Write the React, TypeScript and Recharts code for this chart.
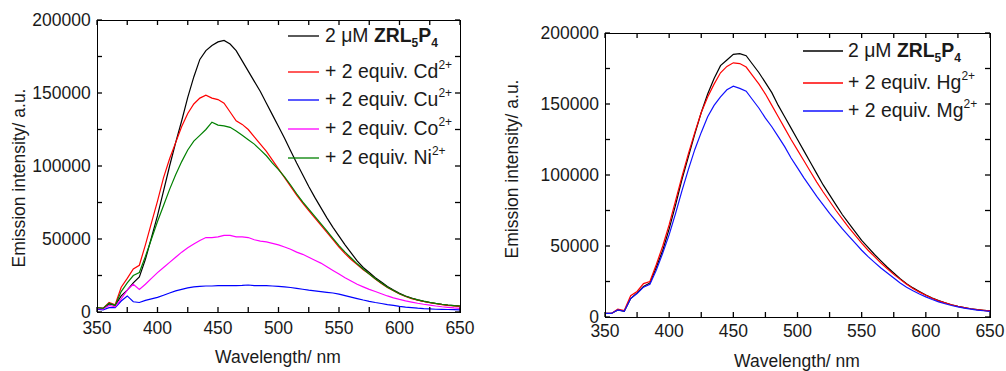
import { LineChart, Line, XAxis, YAxis, Legend, Label } from 'recharts';

// emission spectra, intensity in a.u., read every 5 nm
const WAVELENGTH = [
  350, 355, 360, 365, 370, 375, 380, 385, 390, 395, 400, 405, 410, 415, 420, 425, 430, 435, 440, 445,
  450, 455, 460, 465, 470, 475, 480, 485, 490, 495, 500, 505, 510, 515, 520, 525, 530, 535, 540, 545,
  550, 555, 560, 565, 570, 575, 580, 585, 590, 595, 600, 605, 610, 615, 620, 625, 630, 635, 640, 645, 650,
];

// left panel
const LEFT_ZRL = [
  2500, 2500, 5500, 4500, 11000, 15000, 20000, 24000, 36000, 51000, 66000, 83000, 100000, 116000, 131000, 147000, 161000, 173000, 179000, 182500,
  185000, 186000, 183500, 179000, 172000, 165000, 158000, 151000, 143000, 135000, 127000, 119000, 110500, 102000, 94000, 86000, 78500, 71500, 64500, 58000,
  52000, 46000, 40500, 35000, 30500, 27000, 23500, 20500, 17500, 15000, 12800, 11000, 9500, 8300, 7300, 6500, 5800, 5200, 4700, 4300, 4000,
];
const CD = [
  3000, 2500, 6500, 5000, 17000, 23000, 29500, 32000, 46000, 61000, 76000, 92000, 105000, 116000, 127000, 136000, 142500, 146500, 148500, 146500,
  145500, 143000, 137000, 131000, 128500, 125000, 120000, 115000, 110000, 104000, 98000, 92000, 86000, 80000, 74500, 69500, 64500, 59500, 54500, 49500,
  44500, 40000, 36000, 32500, 29000, 26000, 22500, 19500, 16800, 14500, 12300, 10600, 9200, 8100, 7200, 6400, 5700, 5100, 4600, 4200, 3900,
];
const CU = [
  2000, 1500, 3000, 3000, 7500, 11000, 7000, 6500, 8000, 9000, 10000, 11500, 13000, 14500, 15500, 16500, 17200, 17500, 17800, 17800,
  18000, 18000, 18000, 18000, 18200, 18500, 18000, 18000, 18000, 17800, 17500, 17200, 16800, 16200, 15600, 15000, 14500, 14000, 13500, 13000,
  12200, 11200, 10200, 9200, 8200, 7300, 6500, 5800, 5100, 4500, 3900, 3400, 3000, 2600, 2300, 2100, 1900, 1800, 1700, 1600, 1500,
];
const CO = [
  2500, 2000, 4500, 3500, 9000, 15000, 19000, 15500, 19000, 23000, 27000, 30500, 34000, 37500, 41000, 44000, 46500, 49000, 51000, 51000,
  51500, 52500, 52500, 51500, 51500, 51000, 49500, 48500, 48000, 47000, 46000, 44500, 43000, 41000, 39500, 37500, 35500, 33500, 31000, 28500,
  26000, 23500, 21200, 19000, 17200, 15500, 14000, 12500, 11000, 9700, 8600, 7600, 6800, 6000, 5300, 4700, 4100, 3600, 3200, 2800, 2500,
];
const NI = [
  3000, 2500, 6000, 4500, 14000, 20000, 25000, 27000, 38000, 50000, 62000, 73000, 84000, 94000, 103000, 111000, 117000, 121000, 125000, 130000,
  128000, 127500, 126500, 124000, 121000, 118000, 115000, 111000, 107000, 102000, 97500, 92500, 87000, 81000, 75500, 70500, 65500, 60500, 55500, 50500,
  45500, 41000, 37000, 33000, 29500, 26000, 22800, 19800, 17000, 14700, 12500, 10800, 9400, 8300, 7400, 6600, 5900, 5300, 4800, 4400, 4100,
];

// right panel
const RIGHT_ZRL = [
  2500, 2500, 5000, 4000, 13000, 17000, 21500, 24000, 35000, 47000, 62000, 79000, 97000, 113000, 129000, 144000, 157000, 168000, 177000, 181000,
  185000, 185500, 184000, 178000, 172000, 165000, 158000, 149000, 141000, 133000, 125000, 117000, 109000, 101000, 93000, 86000, 79000, 72000, 66000, 60000,
  54000, 49000, 44000, 39500, 35000, 31000, 27000, 23500, 20500, 18000, 15500, 13300, 11500, 10000, 8600, 7500, 6600, 5800, 5200, 4700, 4300,
];
const HG = [
  2500, 2500, 5500, 4500, 15000, 18000, 23500, 25000, 37000, 50000, 65000, 82000, 99000, 115000, 130000, 144000, 155000, 164000, 172000, 176500,
  179000, 178500, 176000, 170000, 164000, 157000, 149000, 141000, 133000, 125000, 117500, 110000, 102500, 95000, 88000, 81500, 75000, 69000, 63000, 57500,
  52000, 47000, 42500, 38000, 34000, 30000, 26500, 23000, 20000, 17500, 15300, 13200, 11400, 9900, 8600, 7500, 6600, 5800, 5200, 4700, 4300,
];
const MG = [
  2500, 2500, 5000, 4000, 13000, 16500, 21000, 23000, 33000, 45000, 58000, 73000, 89000, 104000, 118000, 130000, 141000, 149000, 155000, 160000,
  162500, 161000, 159000, 153000, 147000, 140000, 134000, 127000, 120000, 112000, 105000, 98000, 91500, 85000, 79000, 73000, 67500, 62000, 57000, 52000,
  47000, 42500, 38500, 34500, 31000, 27500, 24000, 21000, 18500, 16200, 14200, 12300, 10700, 9300, 8100, 7100, 6200, 5500, 4900, 4400, 4000,
];

const X_TICKS = [350, 375, 400, 425, 450, 475, 500, 525, 550, 575, 600, 625, 650];
const X_LABELS = [350, 400, 450, 500, 550, 600, 650];
const Y_TICKS = [0, 25000, 50000, 75000, 100000, 125000, 150000, 175000, 200000];
const Y_LABELS = [0, 50000, 100000, 150000, 200000];

const FONT = '"Liberation Sans", Arial, sans-serif';
const TEXT = '#1a1a1a';
const FS = 17.5;
const LEGEND_FS = 19.4;
const TICK_LEN = 5;

type Series = { key: string; color: string; ion?: string; values: number[] };

const LEFT_SERIES: Series[] = [
  { key: 'zrl', color: '#000000', values: LEFT_ZRL },
  { key: 'cd', color: '#ff0000', ion: 'Cd', values: CD },
  { key: 'cu', color: '#0000ff', ion: 'Cu', values: CU },
  { key: 'co', color: '#ff00ff', ion: 'Co', values: CO },
  { key: 'ni', color: '#008000', ion: 'Ni', values: NI },
];

const RIGHT_SERIES: Series[] = [
  { key: 'zrl', color: '#000000', values: RIGHT_ZRL },
  { key: 'hg', color: '#ff0000', ion: 'Hg', values: HG },
  { key: 'mg', color: '#1010ff', ion: 'Mg', values: MG },
];

function toRows(series: Series[]) {
  return WAVELENGTH.map((w, i) => {
    const row: any = { w };
    series.forEach(s => {
      row[s.key] = s.values[i];
    });
    return row;
  });
}

function LegendText({ s, x, y }: { s: Series; x: number; y: number }) {
  if (!s.ion) {
    return (
      <text x={x} y={y} fontSize={LEGEND_FS} fill={TEXT} fontFamily={FONT}>
        2 μM <tspan fontWeight="bold">ZRL</tspan>
        <tspan fontWeight="bold" fontSize={12} dy={5}>5</tspan>
        <tspan fontWeight="bold" dy={-5}>P</tspan>
        <tspan fontWeight="bold" fontSize={12} dy={5}>4</tspan>
      </text>
    );
  }
  return (
    <text x={x} y={y} fontSize={LEGEND_FS} fill={TEXT} fontFamily={FONT}>
      + 2 equiv. {s.ion}
      <tspan fontSize={12} dy={-9}>2+</tspan>
    </text>
  );
}

interface PanelProps {
  series: Series[];
  width: number;
  height: number;
  plot: { left: number; top: number; right: number; bottom: number };
  xLabelGap: number;
  yLabelGap: number;
  xTitle: { x: number; y: number };
  yTitle: { x: number; y: number };
  legend: { left: number; top: number; lineStart: number; lineEnd: number; textX: number; rows: number[] };
}

function Panel({ series, width, height, plot, xLabelGap, yLabelGap, xTitle, yTitle, legend }: PanelProps) {
  const data = toRows(series);
  const xAxisHeight = 40;
  const yAxisWidth = 80;
  const margin = {
    top: plot.top,
    right: width - plot.right,
    bottom: height - plot.bottom - xAxisHeight,
    left: plot.left - yAxisWidth,
  };

  // inward ticks on both sides of the frame, label only on the major ones
  const XTick = (props: any) => {
    const c = props.payload.coordinate;
    const v = props.payload.value;
    return (
      <g>
        <line x1={c} x2={c} y1={plot.bottom} y2={plot.bottom - TICK_LEN} stroke="#000" strokeWidth={1.3} />
        <line x1={c} x2={c} y1={plot.top} y2={plot.top + TICK_LEN} stroke="#000" strokeWidth={1.3} />
        {X_LABELS.includes(v) && (
          <text x={c} y={plot.bottom + xLabelGap} dy="0.71em" textAnchor="middle" fontSize={FS} fill={TEXT} fontFamily={FONT}>
            {v}
          </text>
        )}
      </g>
    );
  };

  const YTick = (props: any) => {
    const c = props.payload.coordinate;
    const v = props.payload.value;
    return (
      <g>
        <line x1={plot.left} x2={plot.left + TICK_LEN} y1={c} y2={c} stroke="#000" strokeWidth={1.3} />
        <line x1={plot.right} x2={plot.right - TICK_LEN} y1={c} y2={c} stroke="#000" strokeWidth={1.3} />
        {Y_LABELS.includes(v) && (
          <text x={plot.left - yLabelGap} y={c} dy="0.355em" textAnchor="end" fontSize={FS} fill={TEXT} fontFamily={FONT}>
            {v}
          </text>
        )}
      </g>
    );
  };

  const renderLegend = () => (
    <svg width={230} height={170} style={{ display: 'block' }}>
      {series.map((s, i) => (
        <g key={s.key}>
          <line x1={legend.lineStart} x2={legend.lineEnd} y1={legend.rows[i]} y2={legend.rows[i]} stroke={s.color} strokeWidth={1.3} />
          <LegendText s={s} x={legend.textX} y={legend.rows[i] + 6} />
        </g>
      ))}
    </svg>
  );

  return (
    <div style={{ position: 'relative', width, height }}>
      <LineChart width={width} height={height} data={data} margin={margin}>
        <XAxis
          dataKey="w"
          type="number"
          domain={[350, 650]}
          ticks={X_TICKS}
          interval={0}
          tick={XTick}
          tickLine={false}
          axisLine={false}
          height={xAxisHeight}
        >
          <Label
            content={() => (
              <text x={xTitle.x} y={xTitle.y} textAnchor="middle" fontSize={FS} fill={TEXT} fontFamily={FONT}>
                Wavelength/ nm
              </text>
            )}
          />
        </XAxis>
        <YAxis
          type="number"
          domain={[0, 200000]}
          ticks={Y_TICKS}
          interval={0}
          tick={YTick}
          tickLine={false}
          axisLine={false}
          width={yAxisWidth}
        >
          <Label
            content={() => (
              <text
                x={yTitle.x}
                y={yTitle.y}
                textAnchor="middle"
                transform={`rotate(-90 ${yTitle.x} ${yTitle.y})`}
                fontSize={FS}
                fill={TEXT}
                fontFamily={FONT}
              >
                Emission intensity/ a.u.
              </text>
            )}
          />
        </YAxis>
        <Legend
          layout="vertical"
          align="center"
          verticalAlign="middle"
          content={renderLegend}
          wrapperStyle={{ left: legend.left, top: legend.top, width: 230, height: 170 }}
        />
        {series.map(s => (
          <Line
            key={s.key}
            type="linear"
            dataKey={s.key}
            stroke={s.color}
            strokeWidth={1.2}
            dot={false}
            isAnimationActive={false}
          />
        ))}
      </LineChart>
      {/* plot frame */}
      <div
        style={{
          position: 'absolute',
          left: plot.left - 0.5,
          top: plot.top - 0.5,
          width: plot.right - plot.left + 1,
          height: plot.bottom - plot.top + 1,
          boxSizing: 'border-box',
          border: '1px solid #000',
          pointerEvents: 'none',
        }}
      />
    </div>
  );
}

export default function App() {
  return (
    <div style={{ position: 'absolute', left: 0, top: 0, width: 1006, height: 371, background: '#fff' }}>
      <div style={{ position: 'absolute', left: 0, top: 0 }}>
        <Panel
          series={LEFT_SERIES}
          width={500}
          height={371}
          plot={{ left: 97, top: 20, right: 460, bottom: 312 }}
          xLabelGap={9.5}
          yLabelGap={6.3}
          xTitle={{ x: 278, y: 362.5 }}
          yTitle={{ x: 25, y: 178 }}
          legend={{ left: 275, top: 15, lineStart: 13, lineEnd: 44, textX: 50, rows: [21, 57, 85, 114, 143] }}
        />
      </div>
      <div style={{ position: 'absolute', left: 500, top: 0 }}>
        <Panel
          series={RIGHT_SERIES}
          width={506}
          height={371}
          plot={{ left: 105, top: 33, right: 490, bottom: 317 }}
          xLabelGap={8}
          yLabelGap={6}
          xTitle={{ x: 297, y: 366.5 }}
          yTitle={{ x: 18, y: 169 }}
          legend={{ left: 290, top: 30, lineStart: 13, lineEnd: 53, textX: 58, rows: [21, 53, 81] }}
        />
      </div>
    </div>
  );
}
